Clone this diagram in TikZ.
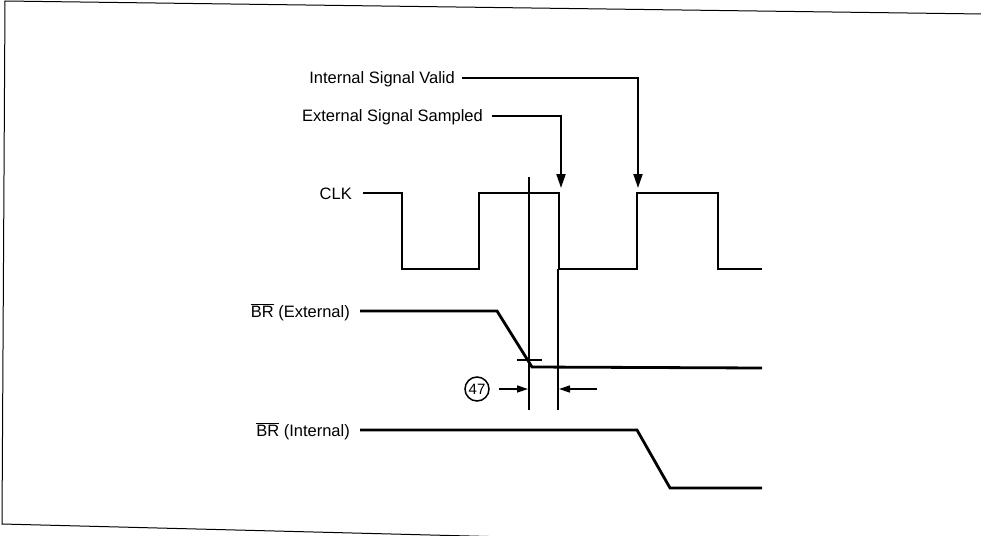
\documentclass[tikz,border=0pt]{standalone}
\usepackage{fontspec}
\setmainfont{Liberation Sans}
\usetikzlibrary{arrows.meta}
\tikzset{
  wave/.style={line width=2.8pt, line join=miter},
  frame/.style={line width=1pt},
  guide/.style={line width=1.8pt},
  lbl/.style={inner sep=0pt, anchor=base east, font=\fontsize{16.5}{18}\selectfont},
  leader/.style={line width=2pt},
  pointer/.style={line width=2pt, -{Triangle[length=14pt,width=9pt]}},
  dim/.style={line width=1.6pt, -{Triangle[length=11pt,width=7pt]}},
  refcircle/.style={circle, draw, line width=1.5pt, minimum size=24pt, inner sep=0pt, font=\fontsize{15}{16}\selectfont}
}
\begin{document}
\begin{tikzpicture}[x=1pt,y=-1pt]
\useasboundingbox (0,0) rectangle (981,535);
\clip (0,0) rectangle (981,535);
% frame (slightly skewed, as scanned)
\draw[frame] (990,14.1) -- (5,1) -- (2,524) -- (820,545);

% labels
\node[lbl] (isv) at (455,83) {Internal Signal Valid};
\node[lbl] (ess) at (483,121) {External Signal Sampled};
\node[lbl] (clk) at (352,199) {CLK};
\node[lbl] (bre) at (350,317) {$\overline{\mbox{BR}}$ (External)};
\node[lbl] (bri) at (350,436) {$\overline{\mbox{BR}}$ (Internal)};

% pointers
\coordinate (isvtip) at (638,188);
\coordinate (esstip) at (561,188);
\draw[leader] ([xshift=7pt,yshift=5.5pt]isv.base east) -| (638,160);
\draw[pointer] (638,150) -- (isvtip);
\draw[leader] ([xshift=9pt,yshift=5pt]ess.base east) -| (561,160);
\draw[pointer] (561,150) -- (esstip);

% CLK waveform
\draw[wave] ([xshift=11pt,yshift=6pt]clk.base east) -- (402,193) -- (402,269) -- (479,269) -- (479,193)
  -- (559,193) -- (559,269) -- (637,269) -- (637,193) -- (718,193) -- (718,269) -- (762,269);

% BR external
\draw[wave] ([xshift=10pt,yshift=6pt]bre.base east) -- (497,311) -- (532,367) -- (762,368);
% BR internal
\draw[wave] ([xshift=10pt,yshift=6pt]bri.base east) -- (637,430) -- (670,488) -- (762,488);

% timing guides
\coordinate (g1top) at (529,177);
\coordinate (g1bot) at (529,410);
\coordinate (g2top) at (558,269);
\coordinate (g2bot) at (558,410);
\draw[guide] (g1top) -- (g1bot);
\draw[guide] (g2top) -- (g2bot);
\draw[guide] (517,360) -- (542,360);

% parameter 47
\node[refcircle] (p47) at (477,389) {47};
\coordinate (d1) at (528,389);
\coordinate (d2) at (559,389);
\draw[dim] ([xshift=9pt]p47.east) -- (d1);
\draw[dim] (597,389) -- (d2);
\end{tikzpicture}
\end{document}
